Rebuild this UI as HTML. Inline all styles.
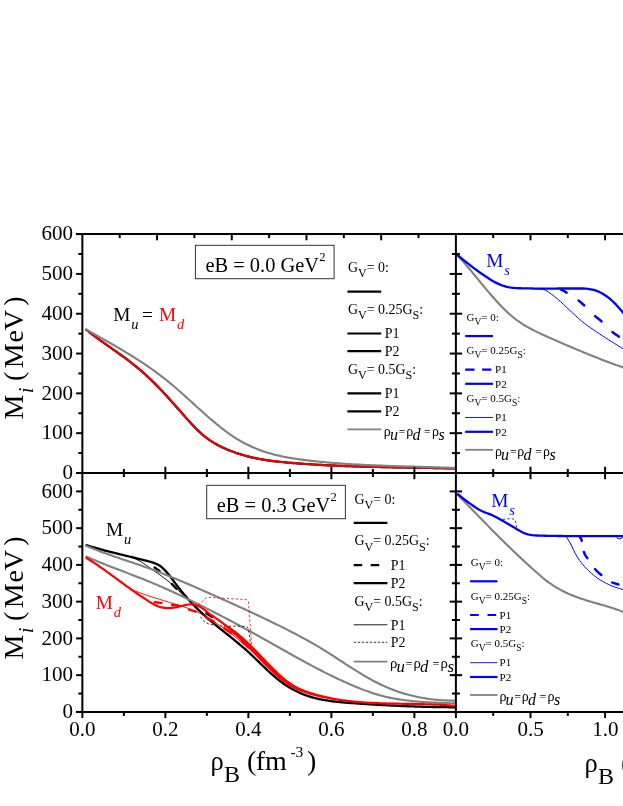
<!DOCTYPE html>
<html><head><meta charset="utf-8"><title>fig</title>
<style>
html,body{margin:0;padding:0;background:#fff;}
body{width:623px;height:806px;overflow:hidden;font-family:"Liberation Serif",serif;}
svg{display:block;font-family:"Liberation Serif",serif;will-change:transform;}
</style></head><body>
<svg width="623" height="806" viewBox="0 0 623 806">
<rect x="0" y="0" width="623" height="806" fill="#fff"/>
<defs>
<clipPath id="cTL"><rect x="82.35" y="234.10" width="373.55" height="238.90"/></clipPath>
<clipPath id="cBL"><rect x="82.35" y="473.00" width="373.55" height="238.90"/></clipPath>
<clipPath id="cTR"><rect x="455.90" y="234.10" width="167.10" height="238.90"/></clipPath>
<clipPath id="cBR"><rect x="455.90" y="473.00" width="167.10" height="238.90"/></clipPath>
</defs>
<g clip-path="url(#cTL)">
<path d="M85.60,329.10 L87.60,330.72 L89.60,332.30 L91.60,333.85 L93.60,335.38 L95.60,336.88 L97.60,338.36 L99.60,339.83 L101.60,341.28 L103.60,342.71 L105.60,344.14 L107.60,345.56 L109.60,346.97 L111.60,348.38 L113.60,349.79 L115.60,351.21 L117.60,352.63 L119.60,354.06 L121.60,355.51 L123.60,356.96 L125.60,358.44 L127.60,359.94 L129.60,361.45 L131.60,363.00 L133.60,364.57 L135.60,366.17 L137.60,367.81 L139.60,369.48 L141.60,371.19 L143.60,372.95 L145.60,374.74 L147.60,376.59 L149.60,378.47 L151.60,380.39 L153.60,382.36 L155.60,384.36 L157.60,386.39 L159.60,388.46 L161.60,390.56 L163.60,392.68 L165.60,394.84 L167.60,397.01 L169.60,399.22 L171.60,401.44 L173.60,403.68 L175.60,405.94 L177.60,408.22 L179.60,410.51 L181.60,412.80 L183.60,415.09 L185.60,417.36 L187.60,419.61 L189.60,421.83 L191.60,424.00 L193.60,426.12 L195.60,428.18 L197.60,430.16 L199.60,432.05 L201.60,433.86 L203.60,435.56 L205.60,437.16 L207.60,438.66 L209.60,440.08 L211.60,441.40 L213.60,442.65 L215.60,443.83 L217.60,444.94 L219.60,445.98 L221.60,446.97 L223.60,447.91 L225.60,448.81 L227.60,449.66 L229.60,450.48 L231.60,451.26 L233.60,452.00 L235.60,452.72 L237.60,453.39 L239.60,454.04 L241.60,454.66 L243.60,455.24 L245.60,455.80 L247.60,456.33 L249.60,456.83 L251.60,457.31 L253.60,457.76 L255.60,458.18 L257.60,458.59 L259.60,458.97 L261.60,459.33 L263.60,459.67 L265.60,459.99 L267.60,460.30 L269.60,460.59 L271.60,460.86 L273.60,461.12 L275.60,461.36 L277.60,461.59 L279.60,461.81 L281.60,462.02 L283.60,462.22 L285.60,462.41 L287.60,462.59 L289.60,462.76 L291.60,462.93 L293.60,463.10 L295.60,463.26 L297.60,463.41 L299.60,463.56 L301.60,463.71 L303.60,463.85 L305.60,463.99 L307.60,464.13 L309.60,464.26 L311.60,464.39 L313.60,464.51 L315.60,464.63 L317.60,464.75 L319.60,464.86 L321.60,464.97 L323.60,465.08 L325.60,465.18 L327.60,465.28 L329.60,465.38 L331.60,465.47 L333.60,465.57 L335.60,465.65 L337.60,465.74 L339.60,465.82 L341.60,465.90 L343.60,465.98 L345.60,466.05 L347.60,466.13 L349.60,466.20 L351.60,466.27 L353.60,466.33 L355.60,466.39 L357.60,466.46 L359.60,466.52 L361.60,466.57 L363.60,466.63 L365.60,466.68 L367.60,466.74 L369.60,466.79 L371.60,466.84 L373.60,466.88 L375.60,466.93 L377.60,466.98 L379.60,467.02 L381.60,467.06 L383.60,467.10 L385.60,467.15 L387.60,467.18 L389.60,467.22 L391.60,467.26 L393.60,467.30 L395.60,467.34 L397.60,467.37 L399.60,467.41 L401.60,467.45 L403.60,467.48 L405.60,467.52 L407.60,467.55 L409.60,467.59 L411.60,467.62 L413.60,467.66 L415.60,467.69 L417.60,467.73 L419.60,467.76 L421.60,467.80 L423.60,467.83 L425.60,467.87 L427.60,467.91 L429.60,467.95 L431.60,467.99 L433.60,468.03 L435.60,468.07 L437.60,468.11 L439.60,468.15 L441.60,468.19 L443.60,468.24 L445.60,468.29 L447.60,468.33 L449.60,468.38 L451.60,468.43 L453.60,468.49 L455.60,468.54 L456.00,468.55" fill="none" stroke="#000" stroke-width="2.2" stroke-linecap="butt" stroke-linejoin="round" />
<path d="M85.60,329.10 L87.60,330.72 L89.60,332.30 L91.60,333.85 L93.60,335.38 L95.60,336.88 L97.60,338.36 L99.60,339.83 L101.60,341.28 L103.60,342.71 L105.60,344.14 L107.60,345.56 L109.60,346.97 L111.60,348.38 L113.60,349.79 L115.60,351.21 L117.60,352.63 L119.60,354.06 L121.60,355.51 L123.60,356.96 L125.60,358.44 L127.60,359.94 L129.60,361.45 L131.60,363.00 L133.60,364.57 L135.60,366.17 L137.60,367.81 L139.60,369.48 L141.60,371.19 L143.60,372.95 L145.60,374.74 L147.60,376.59 L149.60,378.47 L151.60,380.39 L153.60,382.36 L155.60,384.36 L157.60,386.39 L159.60,388.46 L161.60,390.56 L163.60,392.68 L165.60,394.84 L167.60,397.01 L169.60,399.22 L171.60,401.44 L173.60,403.68 L175.60,405.94 L177.60,408.22 L179.60,410.51 L181.60,412.80 L183.60,415.09 L185.60,417.36 L187.60,419.61 L189.60,421.83 L191.60,424.00 L193.60,426.12 L195.60,428.18 L197.60,430.16 L199.60,432.05 L201.60,433.86 L203.60,435.56 L205.60,437.16 L207.60,438.66 L209.60,440.08 L211.60,441.40 L213.60,442.65 L215.60,443.83 L217.60,444.94 L219.60,445.98 L221.60,446.97 L223.60,447.91 L225.60,448.81 L227.60,449.66 L229.60,450.48 L231.60,451.26 L233.60,452.00 L235.60,452.72 L237.60,453.39 L239.60,454.04 L241.60,454.66 L243.60,455.24 L245.60,455.80 L247.60,456.33 L249.60,456.83 L251.60,457.31 L253.60,457.76 L255.60,458.18 L257.60,458.59 L259.60,458.97 L261.60,459.33 L263.60,459.67 L265.60,459.99 L267.60,460.30 L269.60,460.59 L271.60,460.86 L273.60,461.12 L275.60,461.36 L277.60,461.59 L279.60,461.81 L281.60,462.02 L283.60,462.22 L285.60,462.41 L287.60,462.59 L289.60,462.76 L291.60,462.93 L293.60,463.10 L295.60,463.26 L297.60,463.41 L299.60,463.56 L301.60,463.71 L303.60,463.85 L305.60,463.99 L307.60,464.13 L309.60,464.26 L311.60,464.39 L313.60,464.51 L315.60,464.63 L317.60,464.75 L319.60,464.86 L321.60,464.97 L323.60,465.08 L325.60,465.18 L327.60,465.28 L329.60,465.38 L331.60,465.47 L333.60,465.57 L335.60,465.65 L337.60,465.74 L339.60,465.82 L341.60,465.90 L343.60,465.98 L345.60,466.05 L347.60,466.13 L349.60,466.20 L351.60,466.27 L353.60,466.33 L355.60,466.39 L357.60,466.46 L359.60,466.52 L361.60,466.57 L363.60,466.63 L365.60,466.68 L367.60,466.74 L369.60,466.79 L371.60,466.84 L373.60,466.88 L375.60,466.93 L377.60,466.98 L379.60,467.02 L381.60,467.06 L383.60,467.10 L385.60,467.15 L387.60,467.18 L389.60,467.22 L391.60,467.26 L393.60,467.30 L395.60,467.34 L397.60,467.37 L399.60,467.41 L401.60,467.45 L403.60,467.48 L405.60,467.52 L407.60,467.55 L409.60,467.59 L411.60,467.62 L413.60,467.66 L415.60,467.69 L417.60,467.73 L419.60,467.76 L421.60,467.80 L423.60,467.83 L425.60,467.87 L427.60,467.91 L429.60,467.95 L431.60,467.99 L433.60,468.03 L435.60,468.07 L437.60,468.11 L439.60,468.15 L441.60,468.19 L443.60,468.24 L445.60,468.29 L447.60,468.33 L449.60,468.38 L451.60,468.43 L453.60,468.49 L455.60,468.54 L456.00,468.55" fill="none" stroke="#e60000" stroke-width="2.2" stroke-linecap="butt" stroke-linejoin="round" />
<path d="M85.60,329.16 L87.60,330.30 L89.60,331.43 L91.60,332.56 L93.60,333.69 L95.60,334.82 L97.60,335.95 L99.60,337.07 L101.60,338.20 L103.60,339.33 L105.60,340.46 L107.60,341.60 L109.60,342.74 L111.60,343.88 L113.60,345.03 L115.60,346.19 L117.60,347.35 L119.60,348.52 L121.60,349.70 L123.60,350.89 L125.60,352.09 L127.60,353.30 L129.60,354.52 L131.60,355.76 L133.60,357.01 L135.60,358.27 L137.60,359.55 L139.60,360.84 L141.60,362.15 L143.60,363.48 L145.60,364.83 L147.60,366.20 L149.60,367.58 L151.60,368.99 L153.60,370.42 L155.60,371.87 L157.60,373.34 L159.60,374.84 L161.60,376.36 L163.60,377.91 L165.60,379.49 L167.60,381.09 L169.60,382.72 L171.60,384.38 L173.60,386.06 L175.60,387.77 L177.60,389.51 L179.60,391.26 L181.60,393.02 L183.60,394.81 L185.60,396.60 L187.60,398.41 L189.60,400.22 L191.60,402.03 L193.60,403.85 L195.60,405.67 L197.60,407.48 L199.60,409.29 L201.60,411.09 L203.60,412.88 L205.60,414.66 L207.60,416.42 L209.60,418.17 L211.60,419.89 L213.60,421.60 L215.60,423.27 L217.60,424.92 L219.60,426.54 L221.60,428.12 L223.60,429.67 L225.60,431.19 L227.60,432.66 L229.60,434.09 L231.60,435.47 L233.60,436.81 L235.60,438.09 L237.60,439.33 L239.60,440.52 L241.60,441.66 L243.60,442.75 L245.60,443.80 L247.60,444.80 L249.60,445.76 L251.60,446.68 L253.60,447.56 L255.60,448.40 L257.60,449.20 L259.60,449.97 L261.60,450.70 L263.60,451.39 L265.60,452.05 L267.60,452.68 L269.60,453.28 L271.60,453.85 L273.60,454.39 L275.60,454.90 L277.60,455.39 L279.60,455.85 L281.60,456.29 L283.60,456.70 L285.60,457.10 L287.60,457.47 L289.60,457.83 L291.60,458.16 L293.60,458.49 L295.60,458.79 L297.60,459.08 L299.60,459.36 L301.60,459.63 L303.60,459.89 L305.60,460.14 L307.60,460.38 L309.60,460.61 L311.60,460.84 L313.60,461.06 L315.60,461.27 L317.60,461.48 L319.60,461.68 L321.60,461.88 L323.60,462.07 L325.60,462.25 L327.60,462.43 L329.60,462.61 L331.60,462.78 L333.60,462.94 L335.60,463.10 L337.60,463.26 L339.60,463.40 L341.60,463.55 L343.60,463.69 L345.60,463.83 L347.60,463.96 L349.60,464.08 L351.60,464.21 L353.60,464.33 L355.60,464.44 L357.60,464.55 L359.60,464.66 L361.60,464.77 L363.60,464.87 L365.60,464.97 L367.60,465.06 L369.60,465.15 L371.60,465.24 L373.60,465.33 L375.60,465.41 L377.60,465.49 L379.60,465.57 L381.60,465.65 L383.60,465.72 L385.60,465.80 L387.60,465.87 L389.60,465.93 L391.60,466.00 L393.60,466.07 L395.60,466.13 L397.60,466.19 L399.60,466.25 L401.60,466.31 L403.60,466.37 L405.60,466.43 L407.60,466.49 L409.60,466.54 L411.60,466.60 L413.60,466.65 L415.60,466.71 L417.60,466.76 L419.60,466.82 L421.60,466.87 L423.60,466.93 L425.60,466.98 L427.60,467.04 L429.60,467.10 L431.60,467.15 L433.60,467.21 L435.60,467.27 L437.60,467.33 L439.60,467.39 L441.60,467.45 L443.60,467.51 L445.60,467.58 L447.60,467.64 L449.60,467.71 L451.60,467.78 L453.60,467.85 L455.60,467.92 L456.00,467.94" fill="none" stroke="#808080" stroke-width="2.1" stroke-linecap="butt" stroke-linejoin="round" />
</g>
<g clip-path="url(#cTR)">
<path d="M457.30,255.37 L459.30,257.47 L461.30,259.63 L463.30,261.85 L465.30,264.12 L467.30,266.44 L469.30,268.79 L471.30,271.17 L473.30,273.58 L475.30,276.00 L477.30,278.44 L479.30,280.88 L481.30,283.32 L483.30,285.74 L485.30,288.16 L487.30,290.55 L489.30,292.92 L491.30,295.25 L493.30,297.56 L495.30,299.82 L497.30,302.03 L499.30,304.19 L501.30,306.29 L503.30,308.33 L505.30,310.31 L507.30,312.21 L509.30,314.03 L511.30,315.76 L513.30,317.41 L515.30,318.98 L517.30,320.47 L519.30,321.89 L521.30,323.24 L523.30,324.52 L525.30,325.75 L527.30,326.92 L529.30,328.04 L531.30,329.12 L533.30,330.16 L535.30,331.16 L537.30,332.14 L539.30,333.08 L541.30,334.01 L543.30,334.92 L545.30,335.81 L547.30,336.70 L549.30,337.59 L551.30,338.48 L553.30,339.36 L555.30,340.24 L557.30,341.12 L559.30,341.99 L561.30,342.86 L563.30,343.73 L565.30,344.60 L567.30,345.46 L569.30,346.32 L571.30,347.17 L573.30,348.02 L575.30,348.87 L577.30,349.71 L579.30,350.55 L581.30,351.38 L583.30,352.21 L585.30,353.03 L587.30,353.85 L589.30,354.66 L591.30,355.46 L593.30,356.26 L595.30,357.06 L597.30,357.85 L599.30,358.63 L601.30,359.41 L603.30,360.18 L605.30,360.94 L607.30,361.70 L609.30,362.45 L611.30,363.19 L613.30,363.92 L615.30,364.65 L617.30,365.37 L619.30,366.08 L621.30,366.79 L623.30,367.48 L625.30,368.17 L627.30,368.85 L629.30,369.52 L631.30,370.18 L633.30,370.83 L635.30,371.48 L637.30,372.11 L639.30,372.73 L640.00,372.95" fill="none" stroke="#808080" stroke-width="2.1" stroke-linecap="butt" stroke-linejoin="round" />
<path d="M535.00,288.60 L536.50,288.64 L538.00,288.75 L539.50,288.92 L541.00,289.14 L542.50,289.39 L544.00,289.71 L545.50,290.28 L547.00,291.07 L548.50,292.03 L550.00,293.10 L551.50,294.25 L553.00,295.42 L554.50,296.55 L556.00,297.69 L557.50,298.92 L559.00,300.22 L560.50,301.58 L562.00,302.99 L563.50,304.42 L565.00,305.86 L566.50,307.29 L568.00,308.70 L569.50,310.06 L571.00,311.43 L572.50,312.82 L574.00,314.22 L575.50,315.62 L577.00,317.00 L578.50,318.37 L580.00,319.70 L581.50,320.99 L583.00,322.22 L584.50,323.40 L586.00,324.54 L587.50,325.63 L589.00,326.70 L590.50,327.75 L592.00,328.77 L593.50,329.79 L595.00,330.79 L596.50,331.79 L598.00,332.80 L599.50,333.81 L601.00,334.80 L602.50,335.79 L604.00,336.77 L605.50,337.74 L607.00,338.70 L608.50,339.66 L610.00,340.62 L611.50,341.57 L613.00,342.52 L614.50,343.46 L616.00,344.39 L617.50,345.32 L619.00,346.24 L620.50,347.17 L622.00,348.09 L623.50,349.01 L625.00,349.93 L626.50,350.84 L628.00,351.76 L629.50,352.67 L631.00,353.58 L632.50,354.49 L634.00,355.40 L635.00,356.00" fill="none" stroke="#0000ff" stroke-width="1" stroke-linecap="butt" stroke-linejoin="round" />
<path d="M561.35,289.80 L561.57,289.86 L562.73,290.38 L563.90,291.00 L565.07,291.69 L566.23,292.41 L566.54,292.59" fill="none" stroke="#0000ff" stroke-width="2.5" stroke-linecap="round" stroke-linejoin="round" />
<path d="M578.59,300.61 L579.00,300.92 L580.20,301.89 L581.40,302.90 L582.60,303.94 L583.80,305.01 L584.26,305.43" fill="none" stroke="#0000ff" stroke-width="2.5" stroke-linecap="round" stroke-linejoin="round" />
<path d="M595.16,316.15 L595.72,316.64 L597.03,317.71 L598.35,318.75 L599.67,319.79 L600.98,320.86 L601.54,321.35" fill="none" stroke="#0000ff" stroke-width="2.5" stroke-linecap="round" stroke-linejoin="round" />
<path d="M612.48,332.03 L613.03,332.47 L614.37,333.46 L615.70,334.40 L617.03,335.32 L618.37,336.24 L618.89,336.62" fill="none" stroke="#0000ff" stroke-width="2.5" stroke-linecap="round" stroke-linejoin="round" />
<path d="M457.30,254.80 L458.80,256.07 L460.30,257.34 L461.80,258.58 L463.30,259.82 L464.80,261.03 L466.30,262.23 L467.80,263.41 L469.30,264.59 L470.80,265.75 L472.30,266.90 L473.80,268.05 L475.30,269.18 L476.80,270.29 L478.30,271.38 L479.80,272.45 L481.30,273.49 L482.80,274.51 L484.30,275.54 L485.80,276.56 L487.30,277.57 L488.80,278.56 L490.30,279.52 L491.80,280.44 L493.30,281.32 L494.80,282.14 L496.30,282.90 L497.80,283.61 L499.30,284.29 L500.80,284.92 L502.30,285.48 L503.80,285.96 L505.30,286.40 L506.80,286.81 L508.30,287.17 L509.80,287.46 L511.30,287.66 L512.80,287.83 L514.30,287.97 L515.80,288.09 L517.30,288.17 L518.80,288.23 L520.30,288.27 L521.80,288.31 L523.30,288.34 L524.80,288.37 L526.30,288.40 L527.80,288.42 L529.30,288.44 L530.80,288.47 L532.30,288.50 L533.80,288.53 L535.30,288.56 L536.80,288.60 L538.30,288.64 L539.80,288.67 L541.30,288.69 L542.80,288.70 L544.30,288.70 L545.80,288.69 L547.30,288.67 L548.80,288.66 L550.30,288.63 L551.80,288.61 L553.30,288.59 L554.80,288.56 L556.30,288.54 L557.80,288.52 L559.30,288.51 L560.80,288.50 L562.30,288.50 L563.80,288.50 L565.30,288.50 L566.80,288.50 L568.30,288.50 L569.80,288.50 L571.30,288.50 L572.80,288.50 L574.30,288.50 L575.80,288.50 L577.30,288.50 L578.80,288.50 L580.30,288.50 L581.80,288.50 L583.30,288.50 L584.80,288.53 L586.30,288.63 L587.80,288.81 L589.30,289.04 L590.80,289.31 L592.30,289.61 L593.80,289.92 L595.30,290.33 L596.80,290.89 L598.30,291.54 L599.80,292.26 L601.30,293.00 L602.80,293.82 L604.30,294.74 L605.80,295.74 L607.30,296.81 L608.80,297.94 L610.30,299.18 L611.80,300.51 L613.30,301.93 L614.80,303.40 L616.30,304.93 L617.80,306.54 L619.30,308.23 L620.80,309.98 L622.30,311.76 L623.80,313.57 L625.30,315.41 L626.80,317.31 L628.30,319.25 L629.80,321.23 L630.00,321.50" fill="none" stroke="#0000ff" stroke-width="2.3" stroke-linecap="butt" stroke-linejoin="round" />
</g>
<g clip-path="url(#cBR)">
<path d="M457.30,494.35 L459.30,496.40 L461.30,498.45 L463.30,500.50 L465.30,502.55 L467.30,504.61 L469.30,506.67 L471.30,508.72 L473.30,510.78 L475.30,512.84 L477.30,514.89 L479.30,516.95 L481.30,519.00 L483.30,521.05 L485.30,523.09 L487.30,525.13 L489.30,527.16 L491.30,529.19 L493.30,531.21 L495.30,533.23 L497.30,535.24 L499.30,537.23 L501.30,539.22 L503.30,541.20 L505.30,543.17 L507.30,545.13 L509.30,547.08 L511.30,549.01 L513.30,550.94 L515.30,552.85 L517.30,554.74 L519.30,556.63 L521.30,558.50 L523.30,560.37 L525.30,562.22 L527.30,564.06 L529.30,565.89 L531.30,567.70 L533.30,569.51 L535.30,571.31 L537.30,573.08 L539.30,574.83 L541.30,576.54 L543.30,578.20 L545.30,579.81 L547.30,581.35 L549.30,582.82 L551.30,584.22 L553.30,585.56 L555.30,586.82 L557.30,588.03 L559.30,589.18 L561.30,590.27 L563.30,591.30 L565.30,592.29 L567.30,593.23 L569.30,594.12 L571.30,594.98 L573.30,595.79 L575.30,596.57 L577.30,597.31 L579.30,598.02 L581.30,598.71 L583.30,599.37 L585.30,600.01 L587.30,600.63 L589.30,601.24 L591.30,601.83 L593.30,602.41 L595.30,602.99 L597.30,603.56 L599.30,604.13 L601.30,604.70 L603.30,605.28 L605.30,605.86 L607.30,606.45 L609.30,607.05 L611.30,607.68 L613.30,608.32 L615.30,608.98 L617.30,609.66 L619.30,610.38 L621.30,611.12 L623.30,611.90 L625.30,612.71 L627.30,613.56 L629.30,614.45 L630.00,614.78" fill="none" stroke="#808080" stroke-width="2.1" stroke-linecap="butt" stroke-linejoin="round" />
<path d="M566.20,536.60 L567.70,538.88 L569.20,541.35 L570.70,543.98 L572.20,546.99 L573.70,550.25 L575.20,553.39 L576.70,556.06 L578.20,558.40 L579.70,560.56 L581.20,562.57 L582.70,564.44 L584.20,566.19 L585.70,567.82 L587.20,569.34 L588.70,570.78 L590.20,572.16 L591.70,573.50 L593.20,574.79 L594.70,576.03 L596.20,577.20 L597.70,578.29 L599.20,579.30 L600.70,580.26 L602.20,581.16 L603.70,582.00 L605.20,582.80 L606.70,583.56 L608.20,584.28 L609.70,584.97 L611.20,585.62 L612.70,586.24 L614.20,586.81 L615.70,587.35 L617.20,587.86 L618.70,588.34 L620.20,588.80 L621.70,589.23 L623.20,589.66 L624.70,590.06 L626.20,590.46 L627.70,590.85 L629.20,591.22 L630.70,591.57 L632.20,591.91 L633.70,592.24 L635.00,592.50" fill="none" stroke="#0000ff" stroke-width="1" stroke-linecap="butt" stroke-linejoin="round" />
<path d="M579.64,536.76 L579.68,536.78 L580.17,537.29 L580.65,538.09 L581.13,539.12 L581.62,540.34 L581.76,540.76" fill="none" stroke="#0000ff" stroke-width="2.5" stroke-linecap="round" stroke-linejoin="round" />
<path d="M583.94,552.04 L584.32,553.07 L585.03,554.61 L585.75,555.85 L586.47,556.90 L587.18,557.91 L587.35,558.17" fill="none" stroke="#0000ff" stroke-width="2.5" stroke-linecap="round" stroke-linejoin="round" />
<path d="M595.07,569.14 L595.68,569.81 L596.97,571.11 L598.25,572.33 L599.53,573.47 L600.82,574.55 L601.32,574.97" fill="none" stroke="#0000ff" stroke-width="2.5" stroke-linecap="round" stroke-linejoin="round" />
<path d="M612.33,582.48 L612.73,582.65 L614.07,583.12 L615.40,583.55 L616.73,583.94 L618.07,584.32 L618.44,584.42" fill="none" stroke="#0000ff" stroke-width="2.5" stroke-linecap="round" stroke-linejoin="round" />
<path d="M502.80,519.30 L510.80,518.60 L514.60,519.20 L515.40,521.00 L516.60,527.50" fill="none" stroke="#0000ff" stroke-width="0.8" stroke-dasharray="2.5,2" stroke-linecap="butt" stroke-linejoin="round" />
<path d="M457.30,493.70 L458.80,494.97 L460.30,496.21 L461.80,497.43 L463.30,498.62 L464.80,499.78 L466.30,500.90 L467.80,501.99 L469.30,503.07 L470.80,504.14 L472.30,505.20 L473.80,506.24 L475.30,507.25 L476.80,508.22 L478.30,509.15 L479.80,510.01 L481.30,510.80 L482.80,511.52 L484.30,512.15 L485.80,512.72 L487.30,513.26 L488.80,513.81 L490.30,514.38 L491.80,515.01 L493.30,515.71 L494.80,516.47 L496.30,517.27 L497.80,518.09 L499.30,518.92 L500.80,519.76 L502.30,520.59 L503.80,521.44 L505.30,522.29 L506.80,523.16 L508.30,524.04 L509.80,524.91 L511.30,525.80 L512.80,526.70 L514.30,527.62 L515.80,528.53 L517.30,529.41 L518.80,530.25 L520.30,531.12 L521.80,531.97 L523.30,532.74 L524.80,533.36 L526.30,533.85 L527.80,534.29 L529.30,534.68 L530.80,534.98 L532.30,535.18 L533.80,535.30 L535.30,535.40 L536.80,535.48 L538.30,535.55 L539.80,535.60 L541.30,535.65 L542.80,535.69 L544.30,535.73 L545.80,535.77 L547.30,535.80 L548.80,535.84 L550.30,535.86 L551.80,535.89 L553.30,535.91 L554.80,535.94 L556.30,535.96 L557.80,535.98 L559.30,535.99 L560.80,536.01 L562.30,536.02 L563.80,536.04 L565.30,536.05 L566.80,536.07 L568.30,536.08 L569.80,536.09 L571.30,536.11 L572.80,536.12 L574.30,536.13 L575.80,536.14 L577.30,536.15 L578.80,536.16 L580.30,536.17 L581.80,536.18 L583.30,536.19 L584.80,536.19 L586.30,536.20 L587.80,536.20 L589.30,536.20 L590.80,536.20 L592.30,536.20 L593.80,536.20 L595.30,536.20 L596.80,536.20 L598.30,536.20 L599.80,536.20 L601.30,536.20 L602.80,536.20 L604.30,536.20 L605.80,536.20 L607.30,536.20 L608.80,536.20 L610.30,536.20 L611.80,536.20 L613.30,536.20 L614.80,536.20 L616.30,536.20 L617.80,536.20 L619.30,536.20 L620.80,536.20 L622.30,536.20 L623.80,536.20 L625.30,536.20 L626.80,536.20 L628.30,536.20 L629.80,536.20 L630.00,536.20" fill="none" stroke="#0000ff" stroke-width="2.3" stroke-linecap="butt" stroke-linejoin="round" />
<ellipse cx="619.5" cy="537.3" rx="2.6" ry="1.6" fill="none" stroke="#0000ff" stroke-width="1"/>
</g>
<g clip-path="url(#cBL)">
<path d="M131.00,557.20 C132.07,557.63 135.40,558.83 137.40,559.80 C139.40,560.77 140.72,561.52 143.00,563.00 C145.28,564.48 148.42,566.82 151.10,568.70 C153.78,570.58 156.43,572.37 159.10,574.30 C161.77,576.23 164.83,578.57 167.10,580.30 C169.37,582.03 171.05,583.28 172.70,584.70 C174.35,586.12 175.12,586.83 177.00,588.80 C178.88,590.77 182.83,595.22 184.00,596.50" fill="none" stroke="#000" stroke-width="0.9" stroke-linecap="butt" stroke-linejoin="round" />
<line x1="154.60" y1="567.60" x2="159.60" y2="570.90" stroke="#000" stroke-width="2.4" stroke-linecap="round"/>
<line x1="171.80" y1="583.90" x2="176.40" y2="588.80" stroke="#000" stroke-width="2.4" stroke-linecap="round"/>
<line x1="206.30" y1="613.20" x2="212.20" y2="616.90" stroke="#000" stroke-width="2.4" stroke-linecap="round"/>
<path d="M85.60,544.90 L87.10,545.37 L88.60,545.84 L90.10,546.30 L91.60,546.75 L93.10,547.19 L94.60,547.63 L96.10,548.06 L97.60,548.48 L99.10,548.90 L100.60,549.32 L102.10,549.72 L103.60,550.13 L105.10,550.53 L106.60,550.92 L108.10,551.31 L109.60,551.70 L111.10,552.08 L112.60,552.46 L114.10,552.83 L115.60,553.21 L117.10,553.58 L118.60,553.95 L120.10,554.32 L121.60,554.68 L123.10,555.05 L124.60,555.41 L126.10,555.77 L127.60,556.14 L129.10,556.50 L130.60,556.86 L132.10,557.22 L133.60,557.59 L135.10,557.95 L136.60,558.32 L138.10,558.69 L139.60,559.06 L141.10,559.43 L142.60,559.80 L144.10,560.18 L145.60,560.56 L147.10,560.94 L148.60,561.33 L150.00,561.60 L151.50,562.07 L153.00,562.55 L154.50,563.08 L156.00,563.70 L157.50,564.41 L159.00,565.23 L160.50,566.23 L162.00,567.50 L163.50,568.92 L165.00,570.40 L166.50,571.98 L168.00,573.67 L169.50,575.44 L171.00,577.31 L172.00,578.71 L173.50,580.82 L175.00,582.89 L176.50,584.91 L178.00,586.88 L179.50,588.81 L181.00,590.70 L182.50,592.54 L184.00,594.34 L185.50,596.10 L187.00,597.83 L188.50,599.51 L190.00,601.16 L191.50,602.77 L193.00,604.35 L194.50,605.89 L196.00,607.40 L197.50,608.89 L199.00,610.34 L200.50,611.77 L202.00,613.17 L203.50,614.55 L205.00,615.91 L206.50,617.24 L208.00,618.55 L209.50,619.85 L211.00,621.13 L212.50,622.39 L214.00,623.64 L215.50,624.88 L217.00,626.10 L218.50,627.32 L220.00,628.53 L221.50,629.73 L223.00,630.93 L224.50,632.13 L226.00,633.32 L227.50,634.51 L229.00,635.71 L230.50,636.91 L232.00,638.11 L233.50,639.32 L235.00,640.54 L236.50,641.77 L238.00,643.01 L239.50,644.26 L241.00,645.52 L242.50,646.81 L244.00,648.11 L245.50,649.42 L247.00,650.76 L248.50,652.13 L250.00,653.51 L251.50,654.91 L253.00,656.33 L254.50,657.76 L256.00,659.21 L257.50,660.65 L259.00,662.11 L260.50,663.56 L262.00,665.01 L263.50,666.45 L265.00,667.89 L266.50,669.31 L268.00,670.72 L269.50,672.11 L271.00,673.48 L272.50,674.82 L274.00,676.14 L275.50,677.43 L277.00,678.68 L278.50,679.89 L280.00,681.07 L281.50,682.20 L283.00,683.29 L284.50,684.34 L286.00,685.34 L287.50,686.31 L289.00,687.24 L290.50,688.13 L292.00,688.98 L293.50,689.80 L295.00,690.58 L296.50,691.33 L298.00,692.05 L299.50,692.73 L301.00,693.38 L302.50,694.00 L304.00,694.58 L305.50,695.14 L307.00,695.68 L308.50,696.18 L310.00,696.66 L311.50,697.11 L313.00,697.54 L314.50,697.95 L316.00,698.33 L317.50,698.69 L319.00,699.03 L320.50,699.35 L322.00,699.66 L323.50,699.94 L325.00,700.21 L326.50,700.46 L328.00,700.69 L329.50,700.91 L331.00,701.12 L332.50,701.31 L334.00,701.49 L335.50,701.66 L337.00,701.83 L338.50,701.98 L340.00,702.12 L341.50,702.26 L343.00,702.39 L344.50,702.52 L346.00,702.64 L347.50,702.76 L349.00,702.87 L350.50,702.99 L352.00,703.10 L353.50,703.21 L355.00,703.32 L356.50,703.42 L358.00,703.53 L359.50,703.64 L361.00,703.74 L362.50,703.84 L364.00,703.94 L365.50,704.04 L367.00,704.14 L368.50,704.24 L370.00,704.33 L371.50,704.42 L373.00,704.52 L374.50,704.61 L376.00,704.70 L377.50,704.78 L379.00,704.87 L380.50,704.96 L382.00,705.04 L383.50,705.12 L385.00,705.20 L386.50,705.28 L388.00,705.36 L389.50,705.44 L391.00,705.51 L392.50,705.58 L394.00,705.65 L395.50,705.72 L397.00,705.79 L398.50,705.86 L400.00,705.93 L401.50,705.99 L403.00,706.05 L404.50,706.11 L406.00,706.17 L407.50,706.23 L409.00,706.29 L410.50,706.34 L412.00,706.40 L413.50,706.45 L415.00,706.50 L416.50,706.55 L418.00,706.60 L419.50,706.64 L421.00,706.69 L422.50,706.73 L424.00,706.77 L425.50,706.81 L427.00,706.85 L428.50,706.89 L430.00,706.92 L431.50,706.96 L433.00,706.99 L434.50,707.02 L436.00,707.05 L437.50,707.07 L439.00,707.10 L440.50,707.12 L442.00,707.14 L443.50,707.17 L445.00,707.18 L446.50,707.20 L448.00,707.22 L449.50,707.23 L451.00,707.25 L452.50,707.26 L454.00,707.27 L455.50,707.27 L456.00,707.28" fill="none" stroke="#000" stroke-width="2.3" stroke-linecap="butt" stroke-linejoin="round" />
<path d="M85.60,545.50 L87.60,546.36 L89.60,547.19 L91.60,548.01 L93.60,548.82 L95.60,549.61 L97.60,550.39 L99.60,551.15 L101.60,551.91 L103.60,552.65 L105.60,553.38 L107.60,554.10 L109.60,554.81 L111.60,555.52 L113.60,556.21 L115.60,556.91 L117.60,557.59 L119.60,558.28 L121.60,558.96 L123.60,559.63 L125.60,560.31 L127.60,560.98 L129.60,561.66 L131.60,562.33 L133.60,563.01 L135.60,563.69 L137.60,564.37 L139.60,565.06 L141.60,565.75 L143.60,566.45 L145.60,567.15 L147.60,567.87 L149.60,568.59 L151.60,569.32 L153.60,570.06 L155.60,570.81 L157.60,571.57 L159.60,572.34 L161.60,573.11 L163.60,573.90 L165.60,574.69 L167.60,575.49 L169.60,576.29 L171.60,577.10 L173.60,577.92 L175.60,578.75 L177.60,579.58 L179.60,580.42 L181.60,581.26 L183.60,582.11 L185.60,582.96 L187.60,583.82 L189.60,584.68 L191.60,585.54 L193.60,586.41 L195.60,587.28 L197.60,588.16 L199.60,589.03 L201.60,589.91 L203.60,590.80 L205.60,591.68 L207.60,592.57 L209.60,593.45 L211.60,594.34 L213.60,595.23 L215.60,596.12 L217.60,597.01 L219.60,597.90 L221.60,598.79 L223.60,599.69 L225.60,600.59 L227.60,601.48 L229.60,602.39 L231.60,603.29 L233.60,604.19 L235.60,605.10 L237.60,606.01 L239.60,606.92 L241.60,607.84 L243.60,608.76 L245.60,609.68 L247.60,610.60 L249.60,611.53 L251.60,612.46 L253.60,613.39 L255.60,614.33 L257.60,615.27 L259.60,616.22 L261.60,617.17 L263.60,618.12 L265.60,619.08 L267.60,620.04 L269.60,621.01 L271.60,621.98 L273.60,622.96 L275.60,623.94 L277.60,624.92 L279.60,625.91 L281.60,626.91 L283.60,627.91 L285.60,628.92 L287.60,629.93 L289.60,630.95 L291.60,631.97 L293.60,633.00 L295.60,634.04 L297.60,635.09 L299.60,636.15 L301.60,637.22 L303.60,638.30 L305.60,639.39 L307.60,640.49 L309.60,641.61 L311.60,642.74 L313.60,643.88 L315.60,645.04 L317.60,646.22 L319.60,647.42 L321.60,648.63 L323.60,649.86 L325.60,651.10 L327.60,652.36 L329.60,653.63 L331.60,654.91 L333.60,656.20 L335.60,657.50 L337.60,658.80 L339.60,660.10 L341.60,661.40 L343.60,662.71 L345.60,664.01 L347.60,665.30 L349.60,666.59 L351.60,667.88 L353.60,669.15 L355.60,670.41 L357.60,671.66 L359.60,672.89 L361.60,674.11 L363.60,675.31 L365.60,676.49 L367.60,677.65 L369.60,678.78 L371.60,679.89 L373.60,680.97 L375.60,682.02 L377.60,683.04 L379.60,684.02 L381.60,684.98 L383.60,685.90 L385.60,686.79 L387.60,687.64 L389.60,688.47 L391.60,689.26 L393.60,690.02 L395.60,690.76 L397.60,691.46 L399.60,692.13 L401.60,692.78 L403.60,693.39 L405.60,693.98 L407.60,694.54 L409.60,695.07 L411.60,695.58 L413.60,696.05 L415.60,696.51 L417.60,696.93 L419.60,697.33 L421.60,697.71 L423.60,698.06 L425.60,698.39 L427.60,698.69 L429.60,698.97 L431.60,699.23 L433.60,699.46 L435.60,699.68 L437.60,699.87 L439.60,700.04 L441.60,700.19 L443.60,700.32 L445.60,700.42 L447.60,700.51 L449.60,700.58 L451.60,700.63 L453.60,700.67 L455.60,700.68 L456.00,700.68" fill="none" stroke="#808080" stroke-width="2.1" stroke-linecap="butt" stroke-linejoin="round" />
<path d="M85.60,556.21 L87.60,557.10 L89.60,557.98 L91.60,558.85 L93.60,559.70 L95.60,560.54 L97.60,561.37 L99.60,562.20 L101.60,563.01 L103.60,563.82 L105.60,564.62 L107.60,565.41 L109.60,566.19 L111.60,566.97 L113.60,567.75 L115.60,568.52 L117.60,569.29 L119.60,570.06 L121.60,570.83 L123.60,571.59 L125.60,572.36 L127.60,573.12 L129.60,573.89 L131.60,574.66 L133.60,575.43 L135.60,576.20 L137.60,576.98 L139.60,577.77 L141.60,578.56 L143.60,579.35 L145.60,580.16 L147.60,580.97 L149.60,581.79 L151.60,582.62 L153.60,583.46 L155.60,584.30 L157.60,585.16 L159.60,586.03 L161.60,586.90 L163.60,587.78 L165.60,588.67 L167.60,589.57 L169.60,590.47 L171.60,591.39 L173.60,592.31 L175.60,593.23 L177.60,594.17 L179.60,595.11 L181.60,596.06 L183.60,597.01 L185.60,597.97 L187.60,598.94 L189.60,599.91 L191.60,600.89 L193.60,601.87 L195.60,602.86 L197.60,603.85 L199.60,604.85 L201.60,605.85 L203.60,606.86 L205.60,607.87 L207.60,608.88 L209.60,609.90 L211.60,610.93 L213.60,611.95 L215.60,612.98 L217.60,614.02 L219.60,615.05 L221.60,616.09 L223.60,617.14 L225.60,618.19 L227.60,619.24 L229.60,620.29 L231.60,621.35 L233.60,622.42 L235.60,623.49 L237.60,624.56 L239.60,625.63 L241.60,626.71 L243.60,627.80 L245.60,628.88 L247.60,629.97 L249.60,631.07 L251.60,632.17 L253.60,633.27 L255.60,634.38 L257.60,635.49 L259.60,636.61 L261.60,637.73 L263.60,638.85 L265.60,639.97 L267.60,641.10 L269.60,642.23 L271.60,643.36 L273.60,644.49 L275.60,645.62 L277.60,646.75 L279.60,647.89 L281.60,649.02 L283.60,650.14 L285.60,651.27 L287.60,652.40 L289.60,653.52 L291.60,654.64 L293.60,655.76 L295.60,656.87 L297.60,657.98 L299.60,659.08 L301.60,660.18 L303.60,661.27 L305.60,662.36 L307.60,663.44 L309.60,664.51 L311.60,665.58 L313.60,666.64 L315.60,667.69 L317.60,668.74 L319.60,669.78 L321.60,670.80 L323.60,671.82 L325.60,672.83 L327.60,673.84 L329.60,674.83 L331.60,675.81 L333.60,676.78 L335.60,677.74 L337.60,678.69 L339.60,679.63 L341.60,680.56 L343.60,681.48 L345.60,682.38 L347.60,683.28 L349.60,684.16 L351.60,685.02 L353.60,685.88 L355.60,686.72 L357.60,687.54 L359.60,688.34 L361.60,689.13 L363.60,689.89 L365.60,690.64 L367.60,691.36 L369.60,692.07 L371.60,692.74 L373.60,693.40 L375.60,694.02 L377.60,694.62 L379.60,695.19 L381.60,695.73 L383.60,696.25 L385.60,696.74 L387.60,697.20 L389.60,697.64 L391.60,698.05 L393.60,698.44 L395.60,698.81 L397.60,699.15 L399.60,699.47 L401.60,699.78 L403.60,700.06 L405.60,700.33 L407.60,700.58 L409.60,700.81 L411.60,701.02 L413.60,701.22 L415.60,701.41 L417.60,701.58 L419.60,701.74 L421.60,701.89 L423.60,702.03 L425.60,702.15 L427.60,702.27 L429.60,702.38 L431.60,702.48 L433.60,702.58 L435.60,702.66 L437.60,702.75 L439.60,702.83 L441.60,702.90 L443.60,702.97 L445.60,703.04 L447.60,703.11 L449.60,703.18 L451.60,703.25 L453.60,703.32 L455.60,703.39 L456.00,703.41" fill="none" stroke="#808080" stroke-width="2.1" stroke-linecap="butt" stroke-linejoin="round" />
<path d="M200.40,616.70 L204.40,621.90 L209.30,624.30 L223.70,626.30 L238.20,626.10 L246.20,626.50 L248.40,628.20 L250.70,645.10" fill="none" stroke="#000" stroke-width="0.8" stroke-dasharray="2.5,2" stroke-linecap="butt" stroke-linejoin="round" />
<path d="M130.00,588.60 L134.30,590.80 L150.00,596.40 L159.60,599.30 L169.30,602.40 L178.90,605.30 L188.50,608.50 L198.20,612.30 L212.50,620.50 L228.00,631.00 L245.00,645.00" fill="none" stroke="#ff0000" stroke-width="0.9" stroke-linecap="butt" stroke-linejoin="round" />
<line x1="154.80" y1="602.30" x2="161.50" y2="602.90" stroke="#ff0000" stroke-width="2.4" stroke-linecap="round"/>
<line x1="172.20" y1="605.00" x2="178.40" y2="605.60" stroke="#ff0000" stroke-width="2.4" stroke-linecap="round"/>
<line x1="189.00" y1="609.60" x2="195.70" y2="611.70" stroke="#ff0000" stroke-width="2.4" stroke-linecap="round"/>
<line x1="206.50" y1="617.80" x2="213.60" y2="621.30" stroke="#ff0000" stroke-width="2.4" stroke-linecap="round"/>
<line x1="224.20" y1="628.30" x2="231.20" y2="633.20" stroke="#ff0000" stroke-width="2.4" stroke-linecap="round"/>
<line x1="242.00" y1="641.50" x2="248.50" y2="647.50" stroke="#ff0000" stroke-width="2.4" stroke-linecap="round"/>
<path d="M198.20,605.10 L206.90,597.30 L246.20,599.60 L248.40,601.20 L249.60,618.10 L251.80,646.00" fill="none" stroke="#ff0000" stroke-width="0.8" stroke-dasharray="2.5,2" stroke-linecap="butt" stroke-linejoin="round" />
<path d="M85.03,558.40 L86.52,559.32 L88.02,560.24 L89.51,561.18 L91.00,562.14 L92.50,563.12 L93.99,564.10 L95.49,565.11 L96.98,566.12 L98.48,567.15 L99.97,568.18 L101.47,569.23 L102.96,570.29 L104.46,571.35 L105.96,572.42 L107.46,573.50 L108.95,574.59 L110.45,575.68 L111.95,576.77 L113.45,577.87 L114.95,578.97 L116.45,580.07 L117.95,581.18 L119.45,582.28 L120.95,583.38 L122.45,584.48 L123.95,585.58 L125.45,586.67 L126.95,587.76 L128.46,588.85 L129.96,589.93 L131.46,591.00 L132.97,592.06 L134.47,593.12 L135.97,594.17 L137.48,595.20 L138.98,596.23 L140.52,597.26 L141.41,597.72 L142.87,598.75 L144.38,599.80 L145.89,600.83 L147.40,601.83 L148.92,602.80 L150.44,603.74 L151.96,604.62 L153.50,605.44 L155.03,606.20 L156.58,606.89 L158.13,607.49 L159.69,608.01 L161.25,608.42 L162.81,608.75 L164.37,608.98 L165.92,609.13 L167.47,609.20 L169.03,609.20 L170.57,609.13 L172.11,609.00 L173.65,608.81 L175.19,608.57 L176.72,608.28 L178.25,607.95 L179.77,607.58 L181.28,607.19 L182.77,606.80 L184.26,606.42 L185.73,606.09 L187.18,605.80 L188.62,605.59 L190.05,605.47 L191.47,605.46 L192.87,605.56 L194.27,605.78 L195.67,606.14 L197.08,606.66 L198.50,607.32 L199.94,608.12 L201.40,609.03 L202.86,610.03 L204.34,611.11 L205.83,612.24 L207.32,613.42 L208.82,614.61 L210.37,615.83 L211.41,616.43 L212.88,617.43 L214.37,618.47 L215.87,619.52 L217.36,620.58 L218.86,621.65 L220.35,622.74 L221.84,623.84 L223.34,624.96 L224.81,626.13 L226.23,627.38 L227.64,628.64 L229.06,629.93 L230.47,631.23 L231.89,632.55 L233.30,633.89 L234.74,635.22 L236.19,636.56 L237.64,637.92 L239.09,639.30 L240.54,640.71 L241.99,642.14 L243.44,643.59 L244.93,645.03 L246.42,646.48 L247.92,647.95 L249.41,649.44 L250.90,650.94 L252.40,652.45 L253.89,653.98 L255.39,655.51 L256.89,657.04 L258.39,658.59 L259.88,660.13 L261.38,661.68 L262.89,663.23 L264.39,664.77 L265.89,666.31 L267.40,667.84 L268.92,669.36 L270.45,670.84 L271.98,672.30 L273.51,673.74 L275.05,675.15 L276.59,676.53 L278.13,677.88 L279.67,679.18 L281.21,680.45 L282.76,681.66 L284.31,682.83 L285.87,683.94 L287.43,685.00 L288.99,685.99 L290.55,686.92 L292.11,687.79 L293.67,688.61 L295.22,689.37 L296.77,690.09 L298.32,690.76 L299.87,691.39 L301.41,691.98 L302.95,692.55 L304.48,693.08 L306.01,693.59 L307.54,694.06 L309.06,694.52 L310.58,694.96 L312.10,695.38 L313.62,695.78 L315.14,696.17 L316.65,696.56 L318.17,696.93 L319.68,697.29 L321.20,697.63 L322.71,697.97 L324.22,698.29 L325.73,698.60 L327.25,698.90 L328.76,699.19 L330.27,699.47 L331.78,699.73 L333.29,699.99 L334.80,700.24 L336.31,700.47 L337.82,700.70 L339.33,700.91 L340.84,701.13 L342.35,701.35 L343.85,701.55 L345.36,701.75 L346.87,701.94 L348.37,702.12 L349.88,702.29 L351.38,702.46 L352.89,702.61 L354.39,702.76 L355.90,702.91 L357.40,703.04 L358.91,703.17 L360.41,703.29 L361.92,703.41 L363.42,703.51 L364.93,703.62 L366.43,703.72 L367.93,703.81 L369.44,703.89 L370.94,703.98 L372.45,704.05 L373.95,704.12 L375.45,704.19 L376.96,704.25 L378.46,704.31 L379.96,704.37 L381.46,704.42 L382.97,704.47 L384.47,704.51 L385.97,704.56 L387.47,704.60 L388.97,704.63 L390.48,704.67 L391.98,704.70 L393.48,704.73 L394.98,704.76 L396.48,704.79 L397.98,704.82 L399.48,704.84 L400.98,704.87 L402.48,704.89 L403.98,704.91 L405.48,704.94 L406.98,704.96 L408.48,704.98 L409.98,705.01 L411.48,705.03 L412.98,705.06 L414.48,705.09 L415.98,705.12 L417.48,705.15 L418.98,705.18 L420.47,705.21 L421.97,705.25 L423.47,705.28 L424.97,705.33 L426.47,705.37 L427.96,705.42 L429.46,705.47 L430.96,705.52 L432.46,705.58 L433.95,705.64 L435.45,705.70 L436.95,705.77 L438.44,705.85 L439.94,705.92 L441.44,706.01 L442.93,706.10 L444.43,706.19 L445.92,706.29 L447.42,706.40 L448.92,706.51 L450.41,706.63 L451.91,706.75 L453.40,706.88 L454.90,707.02 L455.89,707.11 L456.11,704.92 L455.10,704.83 L453.60,704.69 L452.09,704.56 L450.59,704.43 L449.08,704.31 L447.58,704.20 L446.08,704.10 L444.57,704.00 L443.07,703.90 L441.56,703.81 L440.06,703.73 L438.56,703.65 L437.05,703.57 L435.55,703.50 L434.05,703.44 L432.54,703.38 L431.04,703.32 L429.54,703.27 L428.04,703.22 L426.53,703.17 L425.03,703.13 L423.53,703.09 L422.03,703.05 L420.53,703.01 L419.02,702.98 L417.52,702.95 L416.02,702.92 L414.52,702.89 L413.02,702.86 L411.52,702.83 L410.02,702.81 L408.52,702.78 L407.02,702.76 L405.52,702.74 L404.02,702.71 L402.52,702.69 L401.02,702.67 L399.52,702.64 L398.02,702.62 L396.52,702.59 L395.02,702.56 L393.52,702.53 L392.02,702.50 L390.52,702.47 L389.03,702.43 L387.53,702.40 L386.03,702.36 L384.53,702.32 L383.03,702.27 L381.54,702.22 L380.04,702.17 L378.54,702.12 L377.04,702.06 L375.55,701.99 L374.05,701.93 L372.55,701.85 L371.06,701.78 L369.56,701.70 L368.07,701.61 L366.57,701.52 L365.07,701.42 L363.58,701.32 L362.08,701.21 L360.59,701.10 L359.09,700.98 L357.60,700.85 L356.10,700.71 L354.61,700.57 L353.11,700.43 L351.62,700.27 L350.12,700.11 L348.63,699.93 L347.13,699.76 L345.64,699.57 L344.15,699.37 L342.65,699.17 L341.16,698.95 L339.67,698.73 L338.18,698.48 L336.69,698.22 L335.20,697.95 L333.71,697.67 L332.22,697.38 L330.73,697.08 L329.24,696.77 L327.75,696.45 L326.27,696.12 L324.78,695.78 L323.29,695.43 L321.80,695.06 L320.32,694.69 L318.83,694.30 L317.35,693.90 L315.86,693.48 L314.38,693.05 L312.90,692.61 L311.42,692.15 L309.94,691.68 L308.46,691.19 L306.99,690.68 L305.52,690.15 L304.05,689.59 L302.59,689.01 L301.13,688.38 L299.68,687.71 L298.23,687.01 L296.78,686.26 L295.33,685.48 L293.89,684.65 L292.45,683.76 L291.01,682.83 L289.57,681.84 L288.13,680.80 L286.69,679.70 L285.24,678.54 L283.79,677.33 L282.33,676.07 L280.87,674.77 L279.41,673.42 L277.95,672.03 L276.49,670.62 L275.02,669.17 L273.55,667.69 L272.08,666.19 L270.60,664.68 L269.11,663.16 L267.61,661.63 L266.11,660.09 L264.62,658.55 L263.12,657.00 L261.61,655.45 L260.11,653.91 L258.61,652.36 L257.11,650.83 L255.60,649.29 L254.10,647.77 L252.59,646.26 L251.08,644.76 L249.58,643.27 L248.07,641.79 L246.56,640.34 L245.01,638.94 L243.46,637.56 L241.91,636.21 L240.36,634.88 L238.81,633.57 L237.26,632.29 L235.70,631.06 L234.11,629.88 L232.53,628.72 L230.94,627.59 L229.36,626.48 L227.77,625.39 L226.19,624.32 L224.66,623.20 L223.16,622.07 L221.65,620.96 L220.14,619.87 L218.64,618.78 L217.13,617.72 L215.63,616.66 L214.12,615.62 L212.59,614.58 L211.63,614.03 L210.18,612.88 L208.68,611.69 L207.17,610.50 L205.66,609.35 L204.14,608.23 L202.60,607.18 L201.06,606.22 L199.50,605.36 L197.92,604.63 L196.33,604.05 L194.73,603.63 L193.13,603.37 L191.53,603.26 L189.95,603.28 L188.38,603.41 L186.82,603.63 L185.27,603.93 L183.74,604.29 L182.23,604.67 L180.72,605.06 L179.23,605.45 L177.75,605.81 L176.28,606.13 L174.81,606.40 L173.35,606.63 L171.89,606.81 L170.43,606.94 L168.97,607.00 L167.53,607.00 L166.08,606.94 L164.63,606.80 L163.19,606.58 L161.75,606.28 L160.31,605.90 L158.87,605.42 L157.42,604.86 L155.97,604.21 L154.50,603.49 L153.04,602.70 L151.56,601.84 L150.08,600.94 L148.60,599.99 L147.11,599.00 L145.62,597.99 L144.13,596.95 L142.59,595.87 L141.68,595.39 L140.22,594.41 L138.72,593.39 L137.23,592.36 L135.73,591.32 L134.23,590.26 L132.74,589.21 L131.24,588.14 L129.74,587.06 L128.25,585.98 L126.75,584.89 L125.25,583.80 L123.75,582.70 L122.25,581.61 L120.75,580.50 L119.25,579.40 L117.75,578.30 L116.25,577.20 L114.75,576.10 L113.25,575.00 L111.75,573.90 L110.25,572.81 L108.74,571.72 L107.24,570.64 L105.74,569.56 L104.24,568.49 L102.73,567.43 L101.23,566.38 L99.72,565.33 L98.22,564.30 L96.71,563.28 L95.21,562.27 L93.70,561.28 L92.20,560.29 L90.69,559.33 L89.18,558.38 L87.68,557.44 L86.17,556.53 Z" fill="#ff0000" stroke="none"/>
</g>
<line x1="75.95" y1="234.10" x2="623.00" y2="234.10" stroke="#000" stroke-width="2" stroke-linecap="butt"/>
<line x1="75.95" y1="473.00" x2="623.00" y2="473.00" stroke="#000" stroke-width="2" stroke-linecap="butt"/>
<line x1="75.95" y1="711.90" x2="623.00" y2="711.90" stroke="#000" stroke-width="2" stroke-linecap="butt"/>
<line x1="82.35" y1="234.10" x2="82.35" y2="717.90" stroke="#000" stroke-width="2" stroke-linecap="butt"/>
<line x1="455.90" y1="234.10" x2="455.90" y2="717.90" stroke="#000" stroke-width="2" stroke-linecap="butt"/>
<line x1="76.15" y1="473.00" x2="82.35" y2="473.00" stroke="#000" stroke-width="2" stroke-linecap="butt"/>
<line x1="78.35" y1="453.09" x2="82.35" y2="453.09" stroke="#000" stroke-width="2" stroke-linecap="butt"/>
<line x1="451.90" y1="453.09" x2="459.90" y2="453.09" stroke="#000" stroke-width="2" stroke-linecap="butt"/>
<line x1="76.15" y1="433.18" x2="82.35" y2="433.18" stroke="#000" stroke-width="2" stroke-linecap="butt"/>
<line x1="449.70" y1="433.18" x2="462.10" y2="433.18" stroke="#000" stroke-width="2" stroke-linecap="butt"/>
<line x1="78.35" y1="413.27" x2="82.35" y2="413.27" stroke="#000" stroke-width="2" stroke-linecap="butt"/>
<line x1="451.90" y1="413.27" x2="459.90" y2="413.27" stroke="#000" stroke-width="2" stroke-linecap="butt"/>
<line x1="76.15" y1="393.37" x2="82.35" y2="393.37" stroke="#000" stroke-width="2" stroke-linecap="butt"/>
<line x1="449.70" y1="393.37" x2="462.10" y2="393.37" stroke="#000" stroke-width="2" stroke-linecap="butt"/>
<line x1="78.35" y1="373.46" x2="82.35" y2="373.46" stroke="#000" stroke-width="2" stroke-linecap="butt"/>
<line x1="451.90" y1="373.46" x2="459.90" y2="373.46" stroke="#000" stroke-width="2" stroke-linecap="butt"/>
<line x1="76.15" y1="353.55" x2="82.35" y2="353.55" stroke="#000" stroke-width="2" stroke-linecap="butt"/>
<line x1="449.70" y1="353.55" x2="462.10" y2="353.55" stroke="#000" stroke-width="2" stroke-linecap="butt"/>
<line x1="78.35" y1="333.64" x2="82.35" y2="333.64" stroke="#000" stroke-width="2" stroke-linecap="butt"/>
<line x1="451.90" y1="333.64" x2="459.90" y2="333.64" stroke="#000" stroke-width="2" stroke-linecap="butt"/>
<line x1="76.15" y1="313.73" x2="82.35" y2="313.73" stroke="#000" stroke-width="2" stroke-linecap="butt"/>
<line x1="449.70" y1="313.73" x2="462.10" y2="313.73" stroke="#000" stroke-width="2" stroke-linecap="butt"/>
<line x1="78.35" y1="293.82" x2="82.35" y2="293.82" stroke="#000" stroke-width="2" stroke-linecap="butt"/>
<line x1="451.90" y1="293.82" x2="459.90" y2="293.82" stroke="#000" stroke-width="2" stroke-linecap="butt"/>
<line x1="76.15" y1="273.92" x2="82.35" y2="273.92" stroke="#000" stroke-width="2" stroke-linecap="butt"/>
<line x1="449.70" y1="273.92" x2="462.10" y2="273.92" stroke="#000" stroke-width="2" stroke-linecap="butt"/>
<line x1="78.35" y1="254.01" x2="82.35" y2="254.01" stroke="#000" stroke-width="2" stroke-linecap="butt"/>
<line x1="451.90" y1="254.01" x2="459.90" y2="254.01" stroke="#000" stroke-width="2" stroke-linecap="butt"/>
<line x1="76.15" y1="234.10" x2="82.35" y2="234.10" stroke="#000" stroke-width="2" stroke-linecap="butt"/>
<line x1="76.15" y1="711.90" x2="82.35" y2="711.90" stroke="#000" stroke-width="2" stroke-linecap="butt"/>
<line x1="78.35" y1="693.52" x2="82.35" y2="693.52" stroke="#000" stroke-width="2" stroke-linecap="butt"/>
<line x1="451.90" y1="693.52" x2="459.90" y2="693.52" stroke="#000" stroke-width="2" stroke-linecap="butt"/>
<line x1="76.15" y1="675.15" x2="82.35" y2="675.15" stroke="#000" stroke-width="2" stroke-linecap="butt"/>
<line x1="449.70" y1="675.15" x2="462.10" y2="675.15" stroke="#000" stroke-width="2" stroke-linecap="butt"/>
<line x1="78.35" y1="656.77" x2="82.35" y2="656.77" stroke="#000" stroke-width="2" stroke-linecap="butt"/>
<line x1="451.90" y1="656.77" x2="459.90" y2="656.77" stroke="#000" stroke-width="2" stroke-linecap="butt"/>
<line x1="76.15" y1="638.40" x2="82.35" y2="638.40" stroke="#000" stroke-width="2" stroke-linecap="butt"/>
<line x1="449.70" y1="638.40" x2="462.10" y2="638.40" stroke="#000" stroke-width="2" stroke-linecap="butt"/>
<line x1="78.35" y1="620.02" x2="82.35" y2="620.02" stroke="#000" stroke-width="2" stroke-linecap="butt"/>
<line x1="451.90" y1="620.02" x2="459.90" y2="620.02" stroke="#000" stroke-width="2" stroke-linecap="butt"/>
<line x1="76.15" y1="601.65" x2="82.35" y2="601.65" stroke="#000" stroke-width="2" stroke-linecap="butt"/>
<line x1="449.70" y1="601.65" x2="462.10" y2="601.65" stroke="#000" stroke-width="2" stroke-linecap="butt"/>
<line x1="78.35" y1="583.27" x2="82.35" y2="583.27" stroke="#000" stroke-width="2" stroke-linecap="butt"/>
<line x1="451.90" y1="583.27" x2="459.90" y2="583.27" stroke="#000" stroke-width="2" stroke-linecap="butt"/>
<line x1="76.15" y1="564.90" x2="82.35" y2="564.90" stroke="#000" stroke-width="2" stroke-linecap="butt"/>
<line x1="449.70" y1="564.90" x2="462.10" y2="564.90" stroke="#000" stroke-width="2" stroke-linecap="butt"/>
<line x1="78.35" y1="546.52" x2="82.35" y2="546.52" stroke="#000" stroke-width="2" stroke-linecap="butt"/>
<line x1="451.90" y1="546.52" x2="459.90" y2="546.52" stroke="#000" stroke-width="2" stroke-linecap="butt"/>
<line x1="76.15" y1="528.15" x2="82.35" y2="528.15" stroke="#000" stroke-width="2" stroke-linecap="butt"/>
<line x1="449.70" y1="528.15" x2="462.10" y2="528.15" stroke="#000" stroke-width="2" stroke-linecap="butt"/>
<line x1="78.35" y1="509.77" x2="82.35" y2="509.77" stroke="#000" stroke-width="2" stroke-linecap="butt"/>
<line x1="451.90" y1="509.77" x2="459.90" y2="509.77" stroke="#000" stroke-width="2" stroke-linecap="butt"/>
<line x1="76.15" y1="491.40" x2="82.35" y2="491.40" stroke="#000" stroke-width="2" stroke-linecap="butt"/>
<line x1="449.70" y1="491.40" x2="462.10" y2="491.40" stroke="#000" stroke-width="2" stroke-linecap="butt"/>
<text x="73.00" y="479.20" font-size="21" fill="#000" text-anchor="end"  >0</text>
<text x="73.00" y="718.10" font-size="21" fill="#000" text-anchor="end"  >0</text>
<text x="73.00" y="439.38" font-size="21" fill="#000" text-anchor="end"  >100</text>
<text x="73.00" y="681.35" font-size="21" fill="#000" text-anchor="end"  >100</text>
<text x="73.00" y="399.57" font-size="21" fill="#000" text-anchor="end"  >200</text>
<text x="73.00" y="644.60" font-size="21" fill="#000" text-anchor="end"  >200</text>
<text x="73.00" y="359.75" font-size="21" fill="#000" text-anchor="end"  >300</text>
<text x="73.00" y="607.85" font-size="21" fill="#000" text-anchor="end"  >300</text>
<text x="73.00" y="319.93" font-size="21" fill="#000" text-anchor="end"  >400</text>
<text x="73.00" y="571.10" font-size="21" fill="#000" text-anchor="end"  >400</text>
<text x="73.00" y="280.12" font-size="21" fill="#000" text-anchor="end"  >500</text>
<text x="73.00" y="534.35" font-size="21" fill="#000" text-anchor="end"  >500</text>
<text x="73.00" y="240.30" font-size="21" fill="#000" text-anchor="end"  >600</text>
<text x="73.00" y="497.60" font-size="21" fill="#000" text-anchor="end"  >600</text>
<line x1="123.86" y1="711.90" x2="123.86" y2="715.90" stroke="#000" stroke-width="2" stroke-linecap="butt"/>
<line x1="123.86" y1="469.00" x2="123.86" y2="477.00" stroke="#000" stroke-width="2" stroke-linecap="butt"/>
<line x1="165.36" y1="711.90" x2="165.36" y2="718.10" stroke="#000" stroke-width="2" stroke-linecap="butt"/>
<line x1="165.36" y1="466.80" x2="165.36" y2="479.20" stroke="#000" stroke-width="2" stroke-linecap="butt"/>
<line x1="206.87" y1="711.90" x2="206.87" y2="715.90" stroke="#000" stroke-width="2" stroke-linecap="butt"/>
<line x1="206.87" y1="469.00" x2="206.87" y2="477.00" stroke="#000" stroke-width="2" stroke-linecap="butt"/>
<line x1="248.37" y1="711.90" x2="248.37" y2="718.10" stroke="#000" stroke-width="2" stroke-linecap="butt"/>
<line x1="248.37" y1="466.80" x2="248.37" y2="479.20" stroke="#000" stroke-width="2" stroke-linecap="butt"/>
<line x1="289.88" y1="711.90" x2="289.88" y2="715.90" stroke="#000" stroke-width="2" stroke-linecap="butt"/>
<line x1="289.88" y1="469.00" x2="289.88" y2="477.00" stroke="#000" stroke-width="2" stroke-linecap="butt"/>
<line x1="331.38" y1="711.90" x2="331.38" y2="718.10" stroke="#000" stroke-width="2" stroke-linecap="butt"/>
<line x1="331.38" y1="466.80" x2="331.38" y2="479.20" stroke="#000" stroke-width="2" stroke-linecap="butt"/>
<line x1="372.89" y1="711.90" x2="372.89" y2="715.90" stroke="#000" stroke-width="2" stroke-linecap="butt"/>
<line x1="372.89" y1="469.00" x2="372.89" y2="477.00" stroke="#000" stroke-width="2" stroke-linecap="butt"/>
<line x1="414.39" y1="711.90" x2="414.39" y2="718.10" stroke="#000" stroke-width="2" stroke-linecap="butt"/>
<line x1="414.39" y1="466.80" x2="414.39" y2="479.20" stroke="#000" stroke-width="2" stroke-linecap="butt"/>
<line x1="119.70" y1="234.10" x2="119.70" y2="238.10" stroke="#000" stroke-width="2" stroke-linecap="butt"/>
<line x1="157.06" y1="234.10" x2="157.06" y2="240.30" stroke="#000" stroke-width="2" stroke-linecap="butt"/>
<line x1="194.41" y1="234.10" x2="194.41" y2="238.10" stroke="#000" stroke-width="2" stroke-linecap="butt"/>
<line x1="231.77" y1="234.10" x2="231.77" y2="240.30" stroke="#000" stroke-width="2" stroke-linecap="butt"/>
<line x1="269.12" y1="234.10" x2="269.12" y2="238.10" stroke="#000" stroke-width="2" stroke-linecap="butt"/>
<line x1="306.48" y1="234.10" x2="306.48" y2="240.30" stroke="#000" stroke-width="2" stroke-linecap="butt"/>
<line x1="343.84" y1="234.10" x2="343.84" y2="238.10" stroke="#000" stroke-width="2" stroke-linecap="butt"/>
<line x1="381.19" y1="234.10" x2="381.19" y2="240.30" stroke="#000" stroke-width="2" stroke-linecap="butt"/>
<line x1="418.54" y1="234.10" x2="418.54" y2="238.10" stroke="#000" stroke-width="2" stroke-linecap="butt"/>
<line x1="493.20" y1="234.10" x2="493.20" y2="238.10" stroke="#000" stroke-width="2" stroke-linecap="butt"/>
<line x1="493.20" y1="469.00" x2="493.20" y2="477.00" stroke="#000" stroke-width="2" stroke-linecap="butt"/>
<line x1="493.20" y1="711.90" x2="493.20" y2="715.90" stroke="#000" stroke-width="2" stroke-linecap="butt"/>
<line x1="530.50" y1="234.10" x2="530.50" y2="240.30" stroke="#000" stroke-width="2" stroke-linecap="butt"/>
<line x1="530.50" y1="466.80" x2="530.50" y2="479.20" stroke="#000" stroke-width="2" stroke-linecap="butt"/>
<line x1="530.50" y1="711.90" x2="530.50" y2="718.10" stroke="#000" stroke-width="2" stroke-linecap="butt"/>
<line x1="567.80" y1="234.10" x2="567.80" y2="238.10" stroke="#000" stroke-width="2" stroke-linecap="butt"/>
<line x1="567.80" y1="469.00" x2="567.80" y2="477.00" stroke="#000" stroke-width="2" stroke-linecap="butt"/>
<line x1="567.80" y1="711.90" x2="567.80" y2="715.90" stroke="#000" stroke-width="2" stroke-linecap="butt"/>
<line x1="605.10" y1="234.10" x2="605.10" y2="240.30" stroke="#000" stroke-width="2" stroke-linecap="butt"/>
<line x1="605.10" y1="466.80" x2="605.10" y2="479.20" stroke="#000" stroke-width="2" stroke-linecap="butt"/>
<line x1="605.10" y1="711.90" x2="605.10" y2="718.10" stroke="#000" stroke-width="2" stroke-linecap="butt"/>
<text x="82.35" y="736.10" font-size="21" fill="#000" text-anchor="middle"  >0.0</text>
<text x="165.36" y="736.10" font-size="21" fill="#000" text-anchor="middle"  >0.2</text>
<text x="248.37" y="736.10" font-size="21" fill="#000" text-anchor="middle"  >0.4</text>
<text x="331.38" y="736.10" font-size="21" fill="#000" text-anchor="middle"  >0.6</text>
<text x="414.39" y="736.10" font-size="21" fill="#000" text-anchor="middle"  >0.8</text>
<text x="455.90" y="736.10" font-size="21" fill="#000" text-anchor="middle"  >0.0</text>
<text x="530.50" y="736.10" font-size="21" fill="#000" text-anchor="middle"  >0.5</text>
<text x="605.40" y="736.10" font-size="21" fill="#000" text-anchor="middle"  >1.0</text>
<text x="210.60" y="769.80" font-size="26.5" fill="#000">&#961;</text>
<text x="224.00" y="782.10" font-size="24" fill="#000">B</text>
<text x="247.00" y="769.60" font-size="28" fill="#000">(</text>
<text x="255.80" y="769.60" font-size="28" fill="#000">fm</text>
<text x="290.40" y="757.00" font-size="15.5" fill="#000">-3</text>
<text x="307.10" y="769.60" font-size="28" fill="#000">)</text>
<text x="584.60" y="771.70" font-size="26.5" fill="#000">&#961;</text>
<text x="598.00" y="784.00" font-size="24" fill="#000">B</text>
<text x="621.00" y="771.50" font-size="28" fill="#000">(</text>
<text x="629.80" y="771.50" font-size="28" fill="#000">fm</text>
<text x="664.40" y="758.90" font-size="15.5" fill="#000">-3</text>
<text x="681.10" y="771.50" font-size="28" fill="#000">)</text>
<g transform="translate(22.7,419.10) rotate(-90)">
<text x="-0.30" y="0.00" font-size="28"  fill="#000">M</text>
<text x="25.90" y="10.60" font-size="21" font-style="italic" fill="#000">i</text>
<text x="38.20" y="0.00" font-size="28"  fill="#000">(</text>
<text x="50.80" y="0.00" font-size="28"  fill="#000">M</text>
<text x="76.70" y="0.00" font-size="28"  fill="#000">e</text>
<text x="88.90" y="0.00" font-size="28"  fill="#000">V</text>
<text x="113.40" y="0.00" font-size="28"  fill="#000">)</text>
</g>
<g transform="translate(22.7,659.10) rotate(-90)">
<text x="-0.30" y="0.00" font-size="28"  fill="#000">M</text>
<text x="25.90" y="10.60" font-size="21" font-style="italic" fill="#000">i</text>
<text x="38.20" y="0.00" font-size="28"  fill="#000">(</text>
<text x="50.80" y="0.00" font-size="28"  fill="#000">M</text>
<text x="76.70" y="0.00" font-size="28"  fill="#000">e</text>
<text x="88.90" y="0.00" font-size="28"  fill="#000">V</text>
<text x="113.40" y="0.00" font-size="28"  fill="#000">)</text>
</g>
<rect x="195.4" y="245.3" width="138.7" height="33.4" fill="#fff" stroke="#333" stroke-width="1"/>
<text x="205.5" y="271.6" font-size="20.4" fill="#000">eB = 0.0 GeV<tspan font-size="12.5" dy="-10.8" dx="0.3">2</tspan></text>
<rect x="206.7" y="485.3" width="138.7" height="33.4" fill="#fff" stroke="#333" stroke-width="1"/>
<text x="216.8" y="511.6" font-size="20.4" fill="#000">eB = 0.3 GeV<tspan font-size="12.5" dy="-10.8" dx="0.3">2</tspan></text>
<text x="113.30" y="320.80" font-size="19.3" fill="#000">M<tspan font-size="14.5" font-style="italic" dy="8" dx="0.8">u</tspan></text>
<text x="142.00" y="320.80" font-size="19.3" fill="#000" text-anchor="start"  >=</text>
<text x="159.10" y="320.80" font-size="19.3" fill="#ff0000">M<tspan font-size="14.5" font-style="italic" dy="8" dx="0.8">d</tspan></text>
<text x="106.10" y="535.60" font-size="19.3" fill="#000">M<tspan font-size="14.5" font-style="italic" dy="8" dx="0.8">u</tspan></text>
<text x="95.70" y="609.00" font-size="19.3" fill="#ff0000">M<tspan font-size="14.5" font-style="italic" dy="8" dx="0.8">d</tspan></text>
<text x="486.30" y="267.00" font-size="19.3" fill="#0000ff">M<tspan font-size="14.5" font-style="italic" dy="8" dx="0.8">s</tspan></text>
<text x="491.20" y="506.60" font-size="19.3" fill="#0000ff">M<tspan font-size="14.5" font-style="italic" dy="8" dx="0.8">s</tspan></text>
<text x="348.00" y="272.10" font-size="13.9" fill="#000">G<tspan font-size="12.093" dy="5.28">V</tspan><tspan font-size="13.9" dy="-5.28">= 0:</tspan></text>
<line x1="347.40" y1="291.70" x2="381.20" y2="291.70" stroke="#000" stroke-width="2.2" stroke-linecap="butt"/>
<text x="348.00" y="313.80" font-size="13.9" fill="#000">G<tspan font-size="12.093" dy="5.28">V</tspan><tspan font-size="13.9" dy="-5.28">= 0.25G</tspan><tspan font-size="12.093" dy="5.28">S</tspan><tspan font-size="13.9" dy="-5.28">:</tspan></text>
<line x1="347.40" y1="333.50" x2="381.20" y2="333.50" stroke="#000" stroke-width="2.2" stroke-linecap="butt"/>
<text x="384.80" y="338.23" font-size="13.9" fill="#000" text-anchor="start"  >P1</text>
<line x1="347.40" y1="351.10" x2="381.20" y2="351.10" stroke="#000" stroke-width="2.2" stroke-linecap="butt"/>
<text x="384.80" y="355.83" font-size="13.9" fill="#000" text-anchor="start"  >P2</text>
<text x="348.00" y="373.70" font-size="13.9" fill="#000">G<tspan font-size="12.093" dy="5.28">V</tspan><tspan font-size="13.9" dy="-5.28">= 0.5G</tspan><tspan font-size="12.093" dy="5.28">S</tspan><tspan font-size="13.9" dy="-5.28">:</tspan></text>
<line x1="347.40" y1="393.40" x2="381.20" y2="393.40" stroke="#000" stroke-width="2.2" stroke-linecap="butt"/>
<text x="384.80" y="398.13" font-size="13.9" fill="#000" text-anchor="start"  >P1</text>
<line x1="347.40" y1="411.30" x2="381.20" y2="411.30" stroke="#000" stroke-width="2.2" stroke-linecap="butt"/>
<text x="384.80" y="416.03" font-size="13.9" fill="#000" text-anchor="start"  >P2</text>
<line x1="347.40" y1="429.30" x2="381.20" y2="429.30" stroke="#808080" stroke-width="1.8" stroke-linecap="butt"/>
<text x="383.80" y="435.70" font-size="14.00" fill="#000">&#961;</text>
<text x="389.90" y="439.60" font-size="16.00" font-style="italic" fill="#000">u</text>
<text x="398.80" y="435.50" font-size="11.50" fill="#000">=</text>
<text x="406.20" y="435.70" font-size="14.00" fill="#000">&#961;</text>
<text x="412.40" y="439.60" font-size="16.00" font-style="italic" fill="#000">d</text>
<text x="424.10" y="435.50" font-size="11.50" fill="#000">=</text>
<text x="431.90" y="435.70" font-size="14.00" fill="#000">&#961;</text>
<text x="438.40" y="439.60" font-size="16.00" font-style="italic" fill="#000">s</text>
<text x="466.50" y="320.70" font-size="11" fill="#000">G<tspan font-size="9.57" dy="4.18">V</tspan><tspan font-size="11" dy="-4.18">= 0:</tspan></text>
<line x1="465.20" y1="336.10" x2="493.00" y2="336.10" stroke="#0000ff" stroke-width="2.2" stroke-linecap="butt"/>
<text x="466.50" y="354.20" font-size="11" fill="#000">G<tspan font-size="9.57" dy="4.18">V</tspan><tspan font-size="11" dy="-4.18">= 0.25G</tspan><tspan font-size="9.57" dy="4.18">S</tspan><tspan font-size="11" dy="-4.18">:</tspan></text>
<line x1="465.20" y1="369.60" x2="493.00" y2="369.60" stroke="#0000ff" stroke-width="2.2" stroke-dasharray="9.3,7.6" stroke-linecap="butt"/>
<text x="495.10" y="373.34" font-size="11" fill="#000" text-anchor="start"  >P1</text>
<line x1="465.20" y1="383.80" x2="493.00" y2="383.80" stroke="#0000ff" stroke-width="2.2" stroke-linecap="butt"/>
<text x="495.10" y="387.54" font-size="11" fill="#000" text-anchor="start"  >P2</text>
<text x="466.50" y="401.70" font-size="11" fill="#000">G<tspan font-size="9.57" dy="4.18">V</tspan><tspan font-size="11" dy="-4.18">= 0.5G</tspan><tspan font-size="9.57" dy="4.18">S</tspan><tspan font-size="11" dy="-4.18">:</tspan></text>
<line x1="465.20" y1="417.50" x2="493.00" y2="417.50" stroke="#0000ff" stroke-width="0.9" stroke-linecap="butt"/>
<text x="495.10" y="421.24" font-size="11" fill="#000" text-anchor="start"  >P1</text>
<line x1="465.20" y1="431.80" x2="493.00" y2="431.80" stroke="#0000ff" stroke-width="2.2" stroke-linecap="butt"/>
<text x="495.10" y="435.54" font-size="11" fill="#000" text-anchor="start"  >P2</text>
<line x1="465.20" y1="449.80" x2="493.00" y2="449.80" stroke="#808080" stroke-width="1.8" stroke-linecap="butt"/>
<text x="494.90" y="456.20" font-size="14.00" fill="#000">&#961;</text>
<text x="501.00" y="460.10" font-size="16.00" font-style="italic" fill="#000">u</text>
<text x="509.90" y="456.00" font-size="11.50" fill="#000">=</text>
<text x="517.30" y="456.20" font-size="14.00" fill="#000">&#961;</text>
<text x="523.50" y="460.10" font-size="16.00" font-style="italic" fill="#000">d</text>
<text x="535.20" y="456.00" font-size="11.50" fill="#000">=</text>
<text x="543.00" y="456.20" font-size="14.00" fill="#000">&#961;</text>
<text x="549.50" y="460.10" font-size="16.00" font-style="italic" fill="#000">s</text>
<text x="354.50" y="503.70" font-size="13.9" fill="#000">G<tspan font-size="12.093" dy="5.28">V</tspan><tspan font-size="13.9" dy="-5.28">= 0:</tspan></text>
<line x1="353.70" y1="522.90" x2="387.40" y2="522.90" stroke="#000" stroke-width="2.2" stroke-linecap="butt"/>
<text x="354.50" y="545.40" font-size="13.9" fill="#000">G<tspan font-size="12.093" dy="5.28">V</tspan><tspan font-size="13.9" dy="-5.28">= 0.25G</tspan><tspan font-size="12.093" dy="5.28">S</tspan><tspan font-size="13.9" dy="-5.28">:</tspan></text>
<line x1="353.70" y1="565.10" x2="387.40" y2="565.10" stroke="#000" stroke-width="2.2" stroke-dasharray="8.5,8.5" stroke-linecap="butt"/>
<text x="390.80" y="569.83" font-size="13.9" fill="#000" text-anchor="start"  >P1</text>
<line x1="353.70" y1="583.10" x2="387.40" y2="583.10" stroke="#000" stroke-width="2.2" stroke-linecap="butt"/>
<text x="390.80" y="587.83" font-size="13.9" fill="#000" text-anchor="start"  >P2</text>
<text x="354.50" y="605.50" font-size="13.9" fill="#000">G<tspan font-size="12.093" dy="5.28">V</tspan><tspan font-size="13.9" dy="-5.28">= 0.5G</tspan><tspan font-size="12.093" dy="5.28">S</tspan><tspan font-size="13.9" dy="-5.28">:</tspan></text>
<line x1="353.70" y1="624.80" x2="387.40" y2="624.80" stroke="#000" stroke-width="0.9" stroke-linecap="butt"/>
<text x="390.80" y="629.53" font-size="13.9" fill="#000" text-anchor="start"  >P1</text>
<line x1="353.70" y1="642.30" x2="387.40" y2="642.30" stroke="#000" stroke-width="0.8" stroke-dasharray="2.4,1.6" stroke-linecap="butt"/>
<text x="390.80" y="647.03" font-size="13.9" fill="#000" text-anchor="start"  >P2</text>
<line x1="353.70" y1="661.70" x2="387.40" y2="661.70" stroke="#808080" stroke-width="1.8" stroke-linecap="butt"/>
<text x="390.09" y="667.80" font-size="14.70" fill="#000">&#961;</text>
<text x="396.50" y="671.70" font-size="16.80" font-style="italic" fill="#000">u</text>
<text x="405.84" y="667.60" font-size="12.08" fill="#000">=</text>
<text x="413.61" y="667.80" font-size="14.70" fill="#000">&#961;</text>
<text x="420.12" y="671.70" font-size="16.80" font-style="italic" fill="#000">d</text>
<text x="432.41" y="667.60" font-size="12.08" fill="#000">=</text>
<text x="440.60" y="667.80" font-size="14.70" fill="#000">&#961;</text>
<text x="447.42" y="671.70" font-size="16.80" font-style="italic" fill="#000">s</text>
<text x="470.70" y="566.10" font-size="11" fill="#000">G<tspan font-size="9.57" dy="4.18">V</tspan><tspan font-size="11" dy="-4.18">= 0:</tspan></text>
<line x1="470.10" y1="581.30" x2="497.50" y2="581.30" stroke="#0000ff" stroke-width="2.2" stroke-linecap="butt"/>
<text x="470.70" y="599.60" font-size="11" fill="#000">G<tspan font-size="9.57" dy="4.18">V</tspan><tspan font-size="11" dy="-4.18">= 0.25G</tspan><tspan font-size="9.57" dy="4.18">S</tspan><tspan font-size="11" dy="-4.18">:</tspan></text>
<line x1="470.10" y1="615.00" x2="497.50" y2="615.00" stroke="#0000ff" stroke-width="2.2" stroke-dasharray="8.7,8.7" stroke-linecap="butt"/>
<text x="499.60" y="618.74" font-size="11" fill="#000" text-anchor="start"  >P1</text>
<line x1="470.10" y1="629.10" x2="497.50" y2="629.10" stroke="#0000ff" stroke-width="2.2" stroke-linecap="butt"/>
<text x="499.60" y="632.84" font-size="11" fill="#000" text-anchor="start"  >P2</text>
<text x="470.70" y="646.70" font-size="11" fill="#000">G<tspan font-size="9.57" dy="4.18">V</tspan><tspan font-size="11" dy="-4.18">= 0.5G</tspan><tspan font-size="9.57" dy="4.18">S</tspan><tspan font-size="11" dy="-4.18">:</tspan></text>
<line x1="470.10" y1="662.70" x2="497.50" y2="662.70" stroke="#0000ff" stroke-width="0.9" stroke-linecap="butt"/>
<text x="499.60" y="666.44" font-size="11" fill="#000" text-anchor="start"  >P1</text>
<line x1="470.10" y1="677.00" x2="497.50" y2="677.00" stroke="#0000ff" stroke-width="2.2" stroke-linecap="butt"/>
<text x="499.60" y="680.74" font-size="11" fill="#000" text-anchor="start"  >P2</text>
<line x1="470.10" y1="695.00" x2="497.50" y2="695.00" stroke="#808080" stroke-width="1.8" stroke-linecap="butt"/>
<text x="499.40" y="701.20" font-size="14.00" fill="#000">&#961;</text>
<text x="505.50" y="705.10" font-size="16.00" font-style="italic" fill="#000">u</text>
<text x="514.40" y="701.00" font-size="11.50" fill="#000">=</text>
<text x="521.80" y="701.20" font-size="14.00" fill="#000">&#961;</text>
<text x="528.00" y="705.10" font-size="16.00" font-style="italic" fill="#000">d</text>
<text x="539.70" y="701.00" font-size="11.50" fill="#000">=</text>
<text x="547.50" y="701.20" font-size="14.00" fill="#000">&#961;</text>
<text x="554.00" y="705.10" font-size="16.00" font-style="italic" fill="#000">s</text>
</svg>
</body></html>
